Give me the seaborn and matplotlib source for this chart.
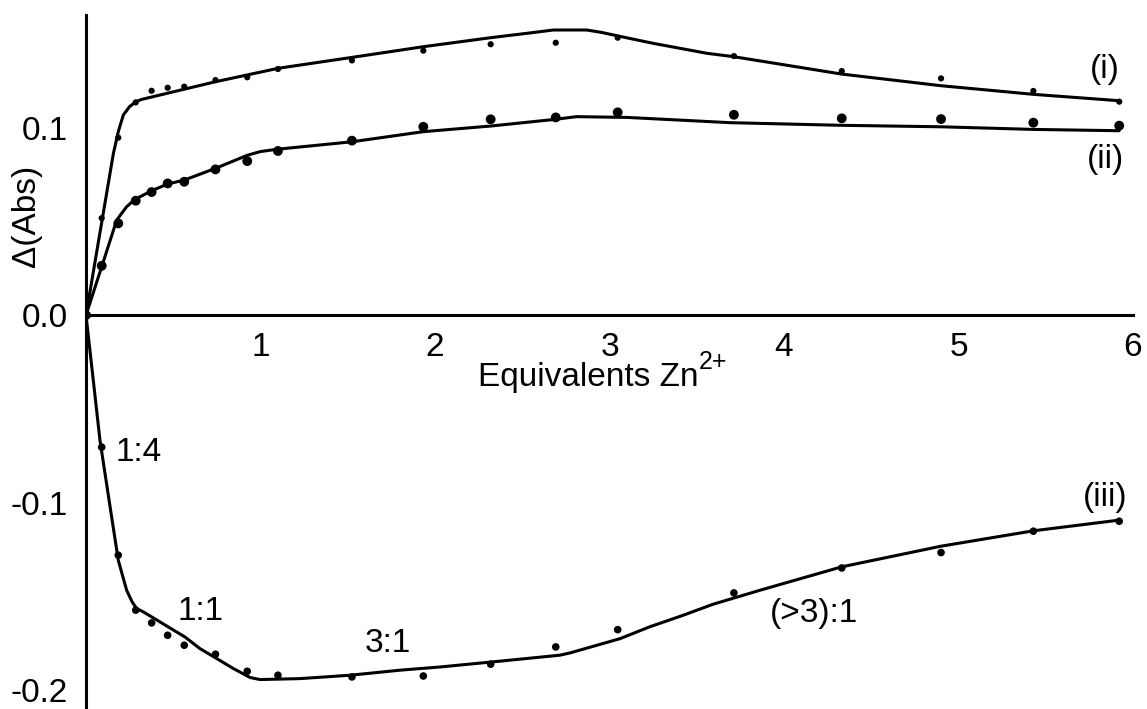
import numpy as np
import pandas as pd
import matplotlib
matplotlib.use("Agg")
import matplotlib.pyplot as plt
import seaborn as sns

# ---- data: measured points ----
x_pts = [0.0, 0.09, 0.185, 0.285, 0.376, 0.468, 0.563, 0.742, 0.924, 1.10, 1.524,
         1.933, 2.319, 2.692, 3.047, 3.713, 4.331, 4.90, 5.429, 5.921]
y_i = [0.0, 0.0517, 0.0946, 0.1134, 0.1196, 0.1212, 0.1218, 0.1253, 0.1268, 0.1312,
       0.1358, 0.1410, 0.1444, 0.1452, 0.1479, 0.1381, 0.1301, 0.1262, 0.1195, 0.1138]
y_ii = [0.0, 0.0263, 0.0489, 0.0610, 0.0656, 0.0702, 0.0711, 0.0777, 0.0821, 0.0875,
        0.0930, 0.1004, 0.1044, 0.1054, 0.1081, 0.1068, 0.1049, 0.1045, 0.1026, 0.1010]
y_iii = [0.0, -0.0704, -0.128, -0.1573, -0.1641, -0.1707, -0.1760, -0.1808, -0.1899,
         -0.1920, -0.1929, -0.1924, -0.1861, -0.1769, -0.1677, -0.1481, -0.1348,
         -0.1266, -0.1152, -0.1099]

# ---- data: fitted curves ----
fit_i_x = [0.0, 0.157, 0.185, 0.214, 0.25, 0.287, 0.319, 0.741, 1.102, 1.524, 1.933, 2.319,
           2.55, 2.678, 2.869, 2.95, 3.04, 3.25, 3.557, 3.71, 4.331, 4.90, 5.429, 5.921]
fit_i_y = [0.0, 0.0862, 0.0978, 0.1067, 0.1112, 0.1138, 0.1150, 0.1244, 0.1316, 0.1374,
           0.1431, 0.1479, 0.1505, 0.1520, 0.1520, 0.1508, 0.1490, 0.1449, 0.1396,
           0.1378, 0.1285, 0.1223, 0.1177, 0.1143]
fit_ii_x = [0.0, 0.09, 0.176, 0.233, 0.281, 0.376, 0.468, 0.563, 0.741, 0.924, 1.0, 1.102,
            1.524, 1.933, 2.319, 2.692, 2.81, 3.10, 3.69, 4.32, 4.90, 5.429, 5.921]
fit_ii_y = [0.0, 0.0258, 0.0507, 0.0578, 0.0617, 0.0663, 0.0699, 0.0720, 0.0782, 0.0852,
            0.0872, 0.0885, 0.0924, 0.0978, 0.1008, 0.1044, 0.1058, 0.1054, 0.1026,
            0.1012, 0.1004, 0.0990, 0.0983]
fit_iii_x = [0.0, 0.08, 0.138, 0.185, 0.233, 0.265, 0.29, 0.328, 0.567, 0.653, 0.749, 0.844,
             0.94, 0.997, 1.226, 1.513, 1.80, 2.029, 2.372, 2.716, 2.774, 3.06, 3.23,
             3.423, 3.595, 3.862, 4.331, 4.90, 5.429, 5.921]
fit_iii_y = [0.0, -0.0667, -0.1022, -0.1307, -0.1467, -0.1530, -0.1564, -0.1582, -0.1716,
             -0.1778, -0.1831, -0.1884, -0.1932, -0.1943, -0.1938, -0.1920, -0.1893,
             -0.1876, -0.1845, -0.1813, -0.1801, -0.1725, -0.1662, -0.1600, -0.1541,
             -0.1467, -0.1342, -0.1232, -0.1150, -0.1093]

x_ticks = [1, 2, 3, 4, 5, 6]
y_ticks = [-0.2, -0.15, -0.1, -0.05, 0.0, 0.05, 0.1, 0.15]
y_ticklabels = ["-0.2", "", "-0.1", "", "0.0", "", "0.1", ""]

series_labels = ["(i)", "(ii)", "(iii)"]
ratio_labels = ["1:4", "1:1", "3:1", "(>3):1"]

sns.set_style("white")
plt.rcParams["font.family"] = ["Liberation Sans", "DejaVu Sans"]
plt.rcParams["text.color"] = "black"

W, H = 1147, 709
fig = plt.figure(figsize=(W / 100, H / 100), dpi=100)
ax = fig.add_axes([86 / W, 0, (1133 - 86) / W, (709 - 15) / H])

lw = 2.2
FS = 24

pts = pd.DataFrame({"x": x_pts, "i": y_i, "ii": y_ii, "iii": y_iii})
for col, s in [("i", 20), ("ii", 50), ("iii", 30)]:
    sns.scatterplot(data=pts, x="x", y=col, ax=ax, color="black", s=s,
                    edgecolor="none", zorder=3, legend=False)

for fx, fy in [(fit_i_x, fit_i_y), (fit_ii_x, fit_ii_y), (fit_iii_x, fit_iii_y)]:
    df = pd.DataFrame({"x": fx, "y": fy})
    sns.lineplot(data=df, x="x", y="y", ax=ax, color="black", lw=lw,
                 sort=False, estimator=None, zorder=2, legend=False)

ax.set_xlim(0, 6)
ax.set_ylim(-0.21, 0.16)

for side in ["top", "right"]:
    ax.spines[side].set_visible(False)
ax.spines["left"].set_position(("data", 0))
ax.spines["bottom"].set_position(("data", 0))
for side in ["left", "bottom"]:
    ax.spines[side].set_linewidth(lw)
    ax.spines[side].set_color("black")
ax.spines["bottom"].set_bounds(0, 6)

ax.set_xticks(x_ticks)
ax.set_xticklabels([str(t) for t in x_ticks])
ax.set_yticks(y_ticks)
ax.set_yticklabels(y_ticklabels)
ax.tick_params(axis="both", direction="out", length=10, width=lw, color="black",
               labelsize=FS, labelcolor="black")
ax.tick_params(axis="x", pad=2)
ax.tick_params(axis="y", pad=3)

ax.set_xlabel("")
ax.set_ylabel("")
t_eq = ax.text(2.88, -0.0335, "Equivalents Zn", fontsize=FS, ha="center", va="center")
ax.annotate("2+", xy=(1.0, 0.62), xycoords=t_eq, fontsize=FS * 0.75,
            ha="left", va="bottom")
ax.text(-0.34, 0.053, "\u0394(Abs)", fontsize=FS, ha="center", va="center",
        rotation=90, clip_on=False)

ax.text(5.84, 0.131, series_labels[0], fontsize=FS, ha="center", va="center")
ax.text(5.84, 0.083, series_labels[1], fontsize=FS, ha="center", va="center")
ax.text(5.84, -0.097, series_labels[2], fontsize=FS, ha="center", va="center")

ax.text(0.30, -0.073, ratio_labels[0], fontsize=FS, ha="center", va="center")
ax.text(0.655, -0.158, ratio_labels[1], fontsize=FS, ha="center", va="center")
ax.text(1.73, -0.175, ratio_labels[2], fontsize=FS, ha="center", va="center")
ax.text(4.17, -0.159, ratio_labels[3], fontsize=FS, ha="center", va="center")

fig.savefig("out.png", dpi=100)
